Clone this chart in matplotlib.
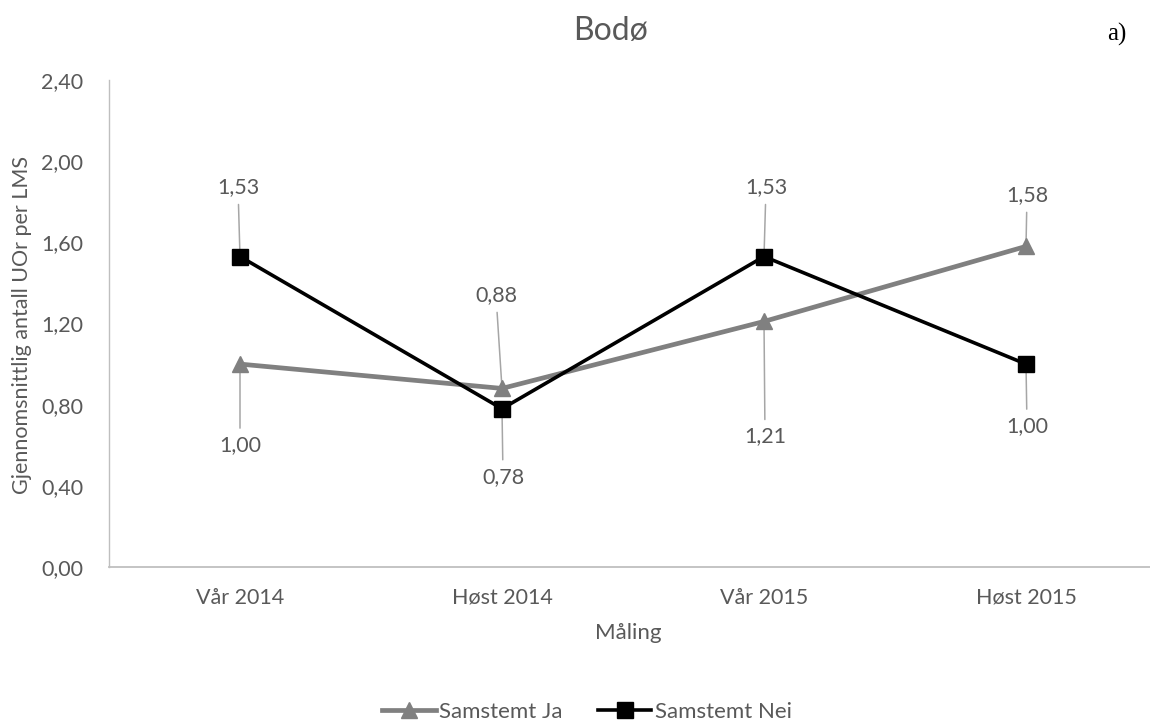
import matplotlib
matplotlib.use("Agg")
import matplotlib.pyplot as plt

plt.rcParams['font.family'] = ['Lato', 'DejaVu Sans']

categories = ["Vår 2014", "Høst 2014", "Vår 2015", "Høst 2015"]
samstemt_ja = [1.00, 0.88, 1.21, 1.58]
samstemt_nei = [1.53, 0.78, 1.53, 1.00]
y_ticks = [0.0, 0.4, 0.8, 1.2, 1.6, 2.0, 2.4]

# label placement (pixel offsets from each point)
ja_offsets = [(0, -81), (-6, 93), (1, -115), (1, 51)]
nei_offsets = [(-2, 69), (1, -68), (2, 69), (1, -62)]

W, H = 1150, 724
fig = plt.figure(figsize=(W / 100, H / 100), dpi=100)
ax = fig.add_axes([109 / W, 1 - 567 / H, 1 - 109 / W, (567 - 80) / H])

x = list(range(len(categories)))
ax.plot(x, samstemt_ja, color='#808080', lw=3.4, marker='^', ms=12,
        mfc='#808080', mec='#808080', label='Samstemt Ja', zorder=3)
ax.plot(x, samstemt_nei, color='#000000', lw=2.6, marker='s', ms=11.5,
        mfc='#000000', mec='#000000', label='Samstemt Nei', zorder=4)

text_color = '#595959'
lead = dict(arrowstyle='-', color='#a6a6a6', lw=1.1, shrinkA=3, shrinkB=0)
for series, offs in ((samstemt_ja, ja_offsets), (samstemt_nei, nei_offsets)):
    for xi, (v, (dx, dy)) in enumerate(zip(series, offs)):
        ax.annotate(f"{v:.2f}".replace('.', ','), xy=(xi, v),
                    xytext=(dx, dy), textcoords='offset pixels',
                    ha='center', va='center', fontsize=15.5, color=text_color,
                    arrowprops=lead, zorder=2)

ax.set_xlim(-0.5, (W - 240) / 262)
ax.set_ylim(0, 2.4)
ax.set_xticks(x)
ax.set_xticklabels(categories)
ax.set_yticks(y_ticks)
ax.set_yticklabels([f"{t:.2f}".replace('.', ',') for t in y_ticks])
ax.tick_params(axis='both', length=0, labelsize=15.5, labelcolor=text_color)
ax.tick_params(axis='x', pad=15)
ax.tick_params(axis='y', pad=18.5)

for side in ('top', 'right'):
    ax.spines[side].set_visible(False)
ax.spines['left'].set_color('#bfbfbf')
ax.spines['bottom'].set_color('#bfbfbf')
ax.spines['left'].set_linewidth(1.0)
ax.spines['bottom'].set_linewidth(1.3)

ax_w = W - 109
ax_h = 567 - 80
ax.set_xlabel("Måling", fontsize=16, color=text_color, va='center')
ax.xaxis.set_label_coords((628 - 109) / ax_w, (567 - 633) / ax_h)
ax.set_ylabel("Gjennomsnittlig antall UOr per LMS", fontsize=15.5,
              color=text_color, va='center')
ax.yaxis.set_label_coords((22 - 109) / ax_w, (567 - 325) / ax_h)

fig.text(611 / W, 1 - 31 / H, "Bodø", ha='center', va='center',
         fontsize=23, color=text_color)
fig.text(1117 / W, 1 - 34 / H, "a)", ha='center', va='center',
         fontsize=18, color='black', family='Liberation Serif')

fig.legend(loc='center', bbox_to_anchor=(587 / W, 1 - 712 / H), ncol=2,
           frameon=False, fontsize=16, labelcolor=text_color,
           handlelength=2.4, handletextpad=0.15, columnspacing=1.6)

fig.savefig("out.png", dpi=100)
